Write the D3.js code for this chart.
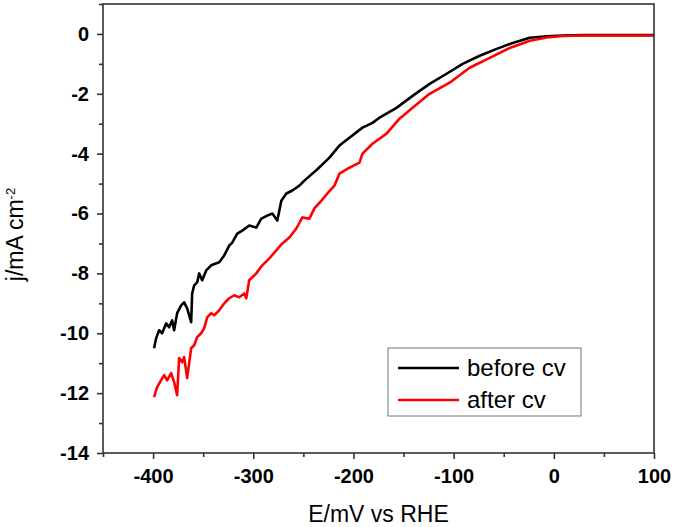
<!DOCTYPE html>
<html><head><meta charset="utf-8">
<script src="https://cdn.jsdelivr.net/npm/d3@7"></script>
<style>body{margin:0;background:#fff}svg{display:block}</style>
</head><body>
<script>
// Data
const beforeE = [-399,-397,-394,-391,-387,-384,-381,-379,-376,-372,-369,-366,-362,-361,-359,-356,-354,-351,-347,-342,-334,-329,-324,-321,-316,-311,-304,-297,-292,-286,-281,-276,-272,-267,-261,-254,-249,-236,-224,-214,-204,-191,-181,-174,-157,-141,-124,-107,-91,-74,-57,-41,-24,-7,9,30,60,100];
const beforeJ = [-10.5,-10.17,-9.9,-10.0,-9.67,-9.8,-9.57,-9.9,-9.33,-9.07,-8.97,-9.17,-9.63,-8.67,-8.4,-8.3,-8.0,-8.23,-7.9,-7.73,-7.63,-7.4,-7.07,-6.97,-6.67,-6.57,-6.4,-6.47,-6.17,-6.07,-6.0,-6.23,-5.57,-5.33,-5.23,-5.07,-4.9,-4.52,-4.13,-3.73,-3.47,-3.13,-2.97,-2.8,-2.47,-2.07,-1.67,-1.33,-1.0,-0.73,-0.5,-0.3,-0.13,-0.08,-0.05,-0.04,-0.04,-0.04];
const afterE = [-399,-396,-392,-389,-386,-382,-379,-376,-374,-371,-369,-366,-362,-359,-356,-352,-349,-346,-342,-339,-334,-329,-324,-319,-314,-309,-307,-304,-297,-291,-284,-277,-271,-264,-257,-251,-244,-239,-232,-226,-219,-214,-204,-194,-191,-181,-167,-154,-141,-124,-104,-84,-64,-44,-24,-7,9,30,60,100];
const afterJ = [-12.13,-11.8,-11.57,-11.4,-11.57,-11.33,-11.63,-12.07,-10.83,-10.97,-10.8,-11.5,-10.5,-10.4,-10.13,-10.0,-9.83,-9.47,-9.33,-9.4,-9.23,-9.0,-8.83,-8.73,-8.8,-8.67,-8.83,-8.23,-8.0,-7.73,-7.5,-7.23,-7.0,-6.8,-6.5,-6.13,-6.17,-5.83,-5.57,-5.33,-5.07,-4.67,-4.47,-4.3,-4.0,-3.67,-3.33,-2.83,-2.47,-2.0,-1.63,-1.13,-0.8,-0.47,-0.23,-0.12,-0.07,-0.05,-0.05,-0.05];
const xTicks = [-400,-300,-200,-100,0,100];
const yTicks = [0,-2,-4,-6,-8,-10,-12,-14];
const seriesNames = ["before cv","after cv"];
const seriesColors = ["#000000","#ff0000"];

const W = 675, H = 527;
const m = {left:103, right:21, top:4, bottom:74};
const svg = d3.select("body").append("svg").attr("width",W).attr("height",H);
const x = d3.scaleLinear().domain([-450,100]).range([m.left, W-m.right]);
const y = d3.scaleLinear().domain([-14,1]).range([H-m.bottom, m.top]);

const font = "'Liberation Sans', Arial, sans-serif";
const fmt = d => String(d); // plain hyphen-minus as in the reference

// Data lines
const line = d3.line().x(d=>x(d[0])).y(d=>y(d[1]));
const series = [d3.zip(beforeE,beforeJ), d3.zip(afterE,afterJ)];
series.forEach((s,i)=>{
  svg.append("path").datum(s).attr("d",line).attr("fill","none")
    .attr("stroke",seriesColors[i]).attr("stroke-width",2.6).attr("stroke-linejoin","round");
});

// frame
svg.append("rect").attr("x",x(-450)).attr("y",y(1)).attr("width",x(100)-x(-450)).attr("height",y(-14)-y(1))
  .attr("fill","none").attr("stroke","#333").attr("stroke-width",1.6);

// X axis
const xa = svg.append("g").attr("transform",`translate(0,${y(-14)})`)
  .call(d3.axisBottom(x).tickValues(xTicks).tickSize(6).tickPadding(10).tickFormat(fmt));
const xm = svg.append("g").attr("transform",`translate(0,${y(-14)})`)
  .call(d3.axisBottom(x).tickValues([-450,-350,-250,-150,-50,50]).tickSize(4).tickFormat(""));
// Y axis
const ya = svg.append("g").attr("transform",`translate(${x(-450)},0)`)
  .call(d3.axisLeft(y).tickValues(yTicks).tickSize(6).tickPadding(8).tickFormat(fmt));
const ym = svg.append("g").attr("transform",`translate(${x(-450)},0)`)
  .call(d3.axisLeft(y).tickValues([1,-1,-3,-5,-7,-9,-11,-13]).tickSize(4).tickFormat(""));
[xa,xm,ya,ym].forEach(g=>{
  g.select(".domain").remove();
  g.selectAll("line").attr("stroke","#333").attr("stroke-width",1.6);
  g.selectAll("text").attr("font-family",font).attr("font-size",20).attr("font-weight","bold").attr("fill","#000");
});

// Axis titles
svg.append("text").attr("x",(x(-450)+x(100))/2).attr("y",522).attr("text-anchor","middle")
  .attr("font-family",font).attr("font-size",23).text("E/mV vs RHE");
const yt = svg.append("text").attr("transform",`translate(23,${(y(1)+y(-14))/2 + 6}) rotate(-90)`)
  .attr("text-anchor","middle").attr("font-family",font).attr("font-size",23);
yt.append("tspan").text("j/mA cm");
yt.append("tspan").attr("dy",-8).attr("font-size",13).text("-2");

// Legend
const lg = svg.append("g");
lg.append("rect").attr("x",388).attr("y",348).attr("width",193).attr("height",68)
  .attr("fill","#fff").attr("stroke","#777").attr("stroke-width",1);
seriesNames.forEach((n,i)=>{
  const yy = 368 + i*32;
  lg.append("line").attr("x1",398).attr("x2",459).attr("y1",yy).attr("y2",yy)
    .attr("stroke",seriesColors[i]).attr("stroke-width",2.6);
  lg.append("text").attr("x",467).attr("y",yy+8).attr("font-family",font).attr("font-size",24).text(n);
});
</script>
</body></html>
